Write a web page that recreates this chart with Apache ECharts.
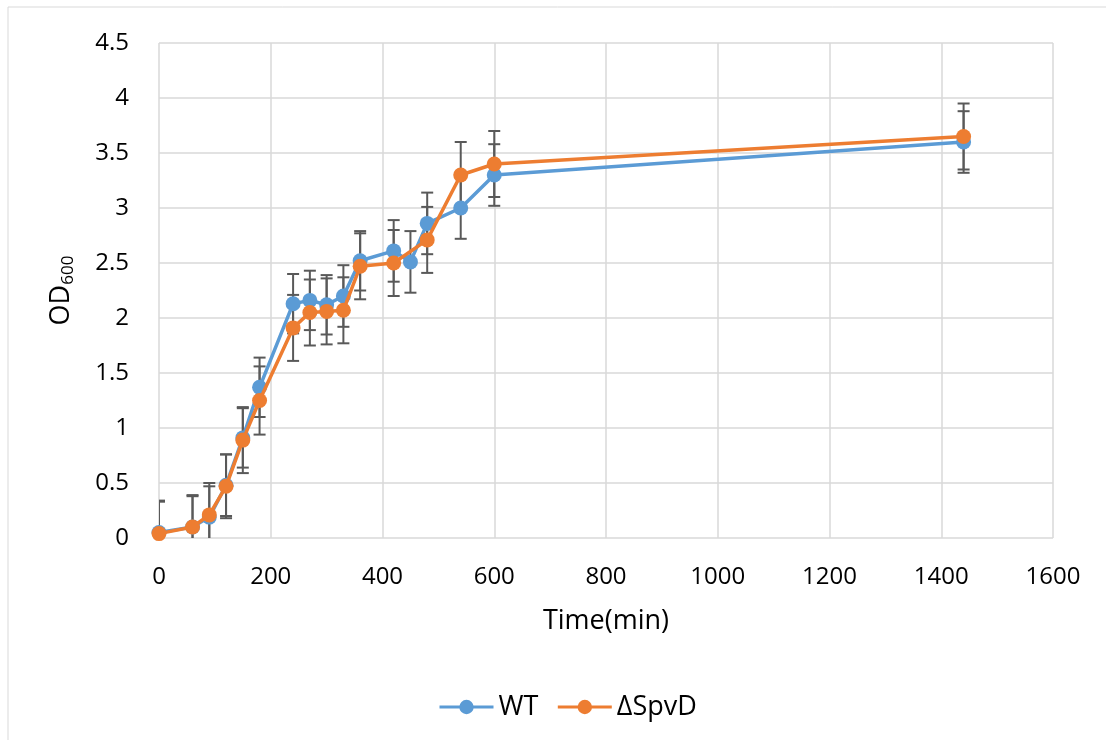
<!DOCTYPE html>
<html>
<head>
<meta charset="utf-8">
<script src="https://cdn.jsdelivr.net/npm/echarts@6/dist/echarts.min.js"></script>
<style>
  html, body { margin: 0; padding: 0; background: #fff; }
  #main { width: 1106px; height: 740px; }
</style>
</head>
<body>
<div id="main"></div>
<script>
// time points (min)
const wtTimes = [0, 60, 90, 120, 150, 180, 240, 270, 300, 330, 360, 420, 450, 480, 540, 600, 1440];
const wtOD = [0.05, 0.10, 0.19, 0.48, 0.91, 1.37, 2.13, 2.16, 2.12, 2.20, 2.52, 2.61, 2.51, 2.86, 3.00, 3.30, 3.60];
const wtErr = [0.28, 0.28, 0.28, 0.28, 0.27, 0.27, 0.27, 0.27, 0.27, 0.28, 0.27, 0.28, 0.28, 0.28, 0.28, 0.28, 0.28];

const spvdTimes = [0, 60, 90, 120, 150, 180, 240, 270, 300, 330, 360, 420, 480, 540, 600, 1440];
const spvdOD = [0.04, 0.10, 0.21, 0.47, 0.89, 1.25, 1.91, 2.05, 2.06, 2.07, 2.47, 2.50, 2.71, 3.30, 3.40, 3.65];
const spvdErr = [0.30, 0.29, 0.29, 0.29, 0.30, 0.31, 0.30, 0.30, 0.30, 0.30, 0.30, 0.30, 0.30, 0.30, 0.30, 0.30];

const FONT = 'Open Sans';
const BLUE = '#5B9BD5';
const ORANGE = '#ED7D31';

function zip(xs, ys) { return xs.map((x, i) => [x, ys[i]]); }
function zip3(xs, ys, es) { return xs.map((x, i) => [x, ys[i], es[i]]); }

// error bars drawn through the axes scales
function errorBars(params, api) {
  const x = api.value(0), y = api.value(1), e = api.value(2);
  const top = api.coord([x, y + e]);
  const bot = api.coord([x, Math.max(0, y - e)]);
  const half = 6;
  const style = { stroke: '#595959', lineWidth: 2 };
  const children = [
    { type: 'line', shape: { x1: top[0], y1: top[1], x2: bot[0], y2: bot[1] }, style },
    { type: 'line', shape: { x1: top[0] - half, y1: top[1], x2: top[0] + half, y2: top[1] }, style }
  ];
  if (y - e >= 0) {
    children.push({ type: 'line', shape: { x1: bot[0] - half, y1: bot[1], x2: bot[0] + half, y2: bot[1] }, style });
  }
  return { type: 'group', children };
}

const chart = echarts.init(document.getElementById('main'));
chart.setOption({
  animation: false,
  textStyle: { fontFamily: FONT },
  graphic: [{
    type: 'rect',
    shape: { x: 8, y: 7, width: 1200, height: 800 },
    style: { fill: 'none', stroke: '#D9D9D9', lineWidth: 1 },
    silent: true
  }],
  grid: { left: 159, right: 53, top: 43, bottom: 202 },
  legend: {
    left: 433,
    top: 686,
    itemWidth: 54,
    itemHeight: 18,
    itemGap: 18,
    lineStyle: { width: 3 },
    textStyle: { fontFamily: FONT, fontSize: 27, color: '#000', lineHeight: 32 },
    data: ['WT', 'ΔSpvD']
  },
  xAxis: {
    type: 'value',
    min: 0,
    max: 1600,
    interval: 200,
    name: 'Time(min)',
    nameLocation: 'middle',
    nameGap: 70,
    nameTextStyle: { fontFamily: FONT, fontSize: 27, color: '#000' },
    axisLine: { show: false },
    axisTick: { show: false },
    axisLabel: { margin: 27, fontFamily: FONT, fontSize: 24, color: '#000', formatter: v => String(v) },
    splitLine: { show: true, lineStyle: { color: '#D9D9D9', width: 1.5 } }
  },
  yAxis: {
    type: 'value',
    min: 0,
    max: 4.5,
    interval: 0.5,
    name: 'OD{s|600}',
    nameLocation: 'middle',
    nameGap: 82,
    nameTextStyle: {
      fontFamily: FONT, fontSize: 27, color: '#000',
      rich: { s: { fontFamily: FONT, fontSize: 17, color: '#000', padding: [14, 0, 0, 0] } }
    },
    axisLine: { show: false },
    axisTick: { show: false },
    axisLabel: { margin: 30, fontFamily: FONT, fontSize: 24, color: '#000' },
    splitLine: { show: true, lineStyle: { color: '#D9D9D9', width: 1.5 } }
  },
  series: [
    {
      type: 'custom',
      name: 'WT err',
      renderItem: errorBars,
      clip: true,
      z: 1,
      data: zip3(wtTimes, wtOD, wtErr)
    },
    {
      type: 'custom',
      name: 'ΔSpvD err',
      renderItem: errorBars,
      clip: true,
      z: 1,
      data: zip3(spvdTimes, spvdOD, spvdErr)
    },
    {
      type: 'line',
      name: 'WT',
      data: zip(wtTimes, wtOD),
      symbol: 'circle',
      symbolSize: 15,
      z: 3,
      color: BLUE,
      lineStyle: { color: BLUE, width: 3.5 },
      itemStyle: { color: BLUE }
    },
    {
      type: 'line',
      name: 'ΔSpvD',
      data: zip(spvdTimes, spvdOD),
      symbol: 'circle',
      symbolSize: 15,
      z: 4,
      color: ORANGE,
      lineStyle: { color: ORANGE, width: 3.5 },
      itemStyle: { color: ORANGE }
    }
  ]
});
</script>
</body>
</html>
